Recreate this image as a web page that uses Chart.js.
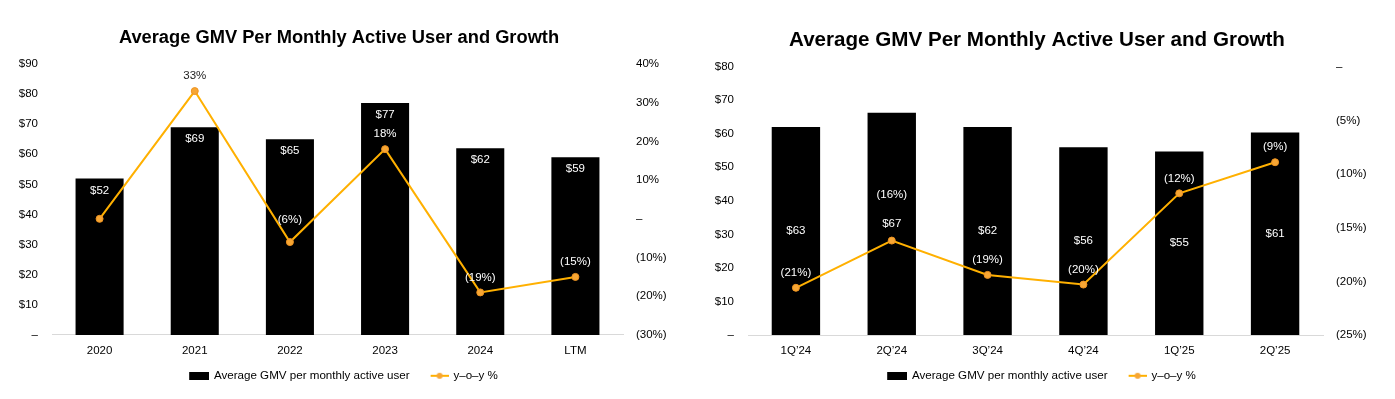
<!DOCTYPE html>
<html><head><meta charset="utf-8">
<script src="https://cdn.jsdelivr.net/npm/chart.js@4.4.1/dist/chart.umd.min.js"></script>
<style>
html,body{margin:0;padding:0;background:#fff;}
#wrap{position:relative;width:1395px;height:399px;overflow:hidden;}
.c{position:absolute;top:0;height:399px;}
#c1box{left:-3px;width:684px;}
#c2box{left:695px;width:684px;}
</style></head><body>
<div id="wrap">
<div class="c" id="c1box"><canvas id="c1"></canvas></div>
<div class="c" id="c2box"><canvas id="c2"></canvas></div>
</div>
<script>
// ---------- DATA ----------
const chartTitle = "Average GMV Per Monthly Active User and Growth";
const barSeriesName = "Average GMV per monthly active user";
const lineSeriesName = "y\u2013o\u2013y %";

const annualCategories = ["2020","2021","2022","2023","2024","LTM"];
const annualGmv = [52,69,65,77,62,59];
const annualGmvLabels = ["$52","$69","$65","$77","$62","$59"];
const annualGrowth = [0,33,-6,18,-19,-15];
const annualGrowthLabels = ["","33%","(6%)","18%","(19%)","(15%)"];
const annualGmvTickLabels = ["\u2013","$10","$20","$30","$40","$50","$60","$70","$80","$90"];
const annualGrowthTickLabels = ["(30%)","(20%)","(10%)","\u2013","10%","20%","30%","40%"];

const quarterCategories = ["1Q\u201924","2Q\u201924","3Q\u201924","4Q\u201924","1Q\u201925","2Q\u201925"];
const quarterGmv = [62,66.3,62,56,54.7,60.4];
const quarterGmvLabels = ["$63","$67","$62","$56","$55","$61"];
const quarterGrowth = [-20.6,-16.2,-19.4,-20.3,-11.8,-8.9];
const quarterGrowthLabels = ["(21%)","(16%)","(19%)","(20%)","(12%)","(9%)"];
const quarterGmvTickLabels = ["\u2013","$10","$20","$30","$40","$50","$60","$70","$80"];
const quarterGrowthTickLabels = ["(25%)","(20%)","(15%)","(10%)","(5%)","\u2013"];

// ---------- STYLE ----------
const FONT = '"Liberation Sans", Arial, sans-serif';
const LINE_COLOR = '#FFB000';
const POINT_COLOR = '#F7A634';
const POINT_BORDER = '#EE9320';

function legendBoxImg(){
  const c=document.createElement('canvas'); c.width=30; c.height=8;
  const g=c.getContext('2d'); g.fillStyle='#000'; g.fillRect(10,0,20,8); return c;
}
function legendLineImg(){
  const c=document.createElement('canvas'); c.width=30; c.height=8;
  const g=c.getContext('2d');
  g.strokeStyle=LINE_COLOR; g.lineWidth=2; g.beginPath(); g.moveTo(12,4); g.lineTo(30,4); g.stroke();
  g.fillStyle=POINT_COLOR; g.beginPath(); g.arc(21,4,3,0,Math.PI*2); g.fill();
  return c;
}

const valueLabels = {
  id:'valueLabels',
  afterDatasetsDraw(chart, args, opts){
    const ctx=chart.ctx; ctx.save();
    ctx.font = '11.5px ' + FONT;
    ctx.textAlign='center'; ctx.textBaseline='middle';
    const barMeta=chart.getDatasetMeta(0), lineMeta=chart.getDatasetMeta(1);
    barMeta.data.forEach((bar,i)=>{
      const y = opts.barMode==='center' ? (bar.y+bar.base)/2 : bar.y+12;
      ctx.fillStyle='#fff'; ctx.fillText(opts.barLabels[i], bar.x, y);
    });
    lineMeta.data.forEach((pt,i)=>{
      const t=opts.lineLabels[i]; if(!t) return;
      const y = pt.y - (opts.lift[i]||15);
      const barTop = barMeta.data[i].y;
      ctx.fillStyle = y < barTop ? '#222' : '#fff';
      ctx.fillText(t, pt.x, y);
    });
    ctx.restore();
  }
};

function makeChart(id, cfg){
  return new Chart(document.getElementById(id), {
    data:{
      labels: cfg.categories,
      datasets:[
        {type:'bar', label:barSeriesName, data:cfg.bars, backgroundColor:'#000', yAxisID:'y', order:2,
         categoryPercentage:1, barPercentage:0.505},
        {type:'line', label:lineSeriesName, data:cfg.line, yAxisID:'y1', order:1,
         borderColor:LINE_COLOR, borderWidth:2, tension:0,
         pointRadius:3.5, pointBackgroundColor:POINT_COLOR, pointBorderColor:POINT_BORDER, pointBorderWidth:1}
      ]
    },
    plugins:[valueLabels],
    options:{
      responsive:true, maintainAspectRatio:false, animation:false,
      layout:{padding:{left:cfg.padLeft,right:cfg.padRight,top:0,bottom:cfg.padBottom}},
      plugins:{
        tooltip:{enabled:false},
        title:{display:true, text:chartTitle, color:'#000',
          font:{family:FONT, size:cfg.titleSize, weight:'bold'}, padding:{top:cfg.titleTop,bottom:cfg.titleBottom}},
        legend:{display:true, position:'bottom',
          labels:{usePointStyle:true, pointStyleWidth:28, padding:10, color:'#000',
            font:{family:FONT,size:11.6},
            generateLabels:()=>[
              {text:barSeriesName, pointStyle:legendBoxImg(), fillStyle:'#000', strokeStyle:'#000', lineWidth:0, hidden:false, datasetIndex:0, fontColor:'#000'},
              {text:lineSeriesName, pointStyle:legendLineImg(), fillStyle:LINE_COLOR, strokeStyle:LINE_COLOR, lineWidth:0, hidden:false, datasetIndex:1, fontColor:'#000'}
            ]}},
        valueLabels:{barLabels:cfg.barLabels, lineLabels:cfg.lineLabels, lift:cfg.lift, barMode:cfg.barMode}
      },
      scales:{
        x:{grid:{color:'rgba(0,0,0,0)', drawTicks:false}, border:{display:true,color:'#d9d9d9',width:1},
           ticks:{color:'#000', font:{family:FONT,size:11.5}, padding:9, maxRotation:0},
           afterFit:s=>{s.height=cfg.xHeight;}},
        y:{position:'left', min:0, max:cfg.yMax, grid:{display:false, drawTicks:false}, border:{display:false},
           ticks:{stepSize:10, color:'#000', font:{family:FONT,size:11.5}, padding:14,
             callback:(v,i)=>cfg.yTicks[i]},
           afterFit:s=>{s.width=cfg.yWidth;}},
        y1:{position:'right', min:cfg.y1Min, max:cfg.y1Max, grid:{display:false, drawTicks:false}, border:{display:false},
           ticks:{stepSize:cfg.y1Step, color:'#000', font:{family:FONT,size:11.5}, padding:13,
             callback:(v,i)=>cfg.y1Ticks[i]},
           afterFit:s=>{s.width=cfg.y1Width;}}
      }
    }
  });
}

makeChart('c1', {
  categories:annualCategories, bars:annualGmv, line:annualGrowth,
  barLabels:annualGmvLabels, lineLabels:annualGrowthLabels, lift:[15,15,22,15,15,15], barMode:'top',
  yMax:90, yTicks:annualGmvTickLabels, y1Min:-30, y1Max:40, y1Step:10, y1Ticks:annualGrowthTickLabels,
  padLeft:0, padRight:0, yWidth:55, y1Width:58, xHeight:25, padBottom:7.4,
  titleSize:18.3, titleTop:27, titleBottom:15
});
makeChart('c2', {
  categories:quarterCategories, bars:quarterGmv, line:quarterGrowth,
  barLabels:quarterGmvLabels, lineLabels:quarterGrowthLabels, lift:[15,46,15,15,15,15], barMode:'center',
  yMax:80, yTicks:quarterGmvTickLabels, y1Min:-25, y1Max:0, y1Step:5, y1Ticks:quarterGrowthTickLabels,
  padLeft:0, padRight:0, yWidth:53, y1Width:56, xHeight:25, padBottom:7.4,
  titleSize:20.6, titleTop:28, titleBottom:14
});
</script>
</body></html>
